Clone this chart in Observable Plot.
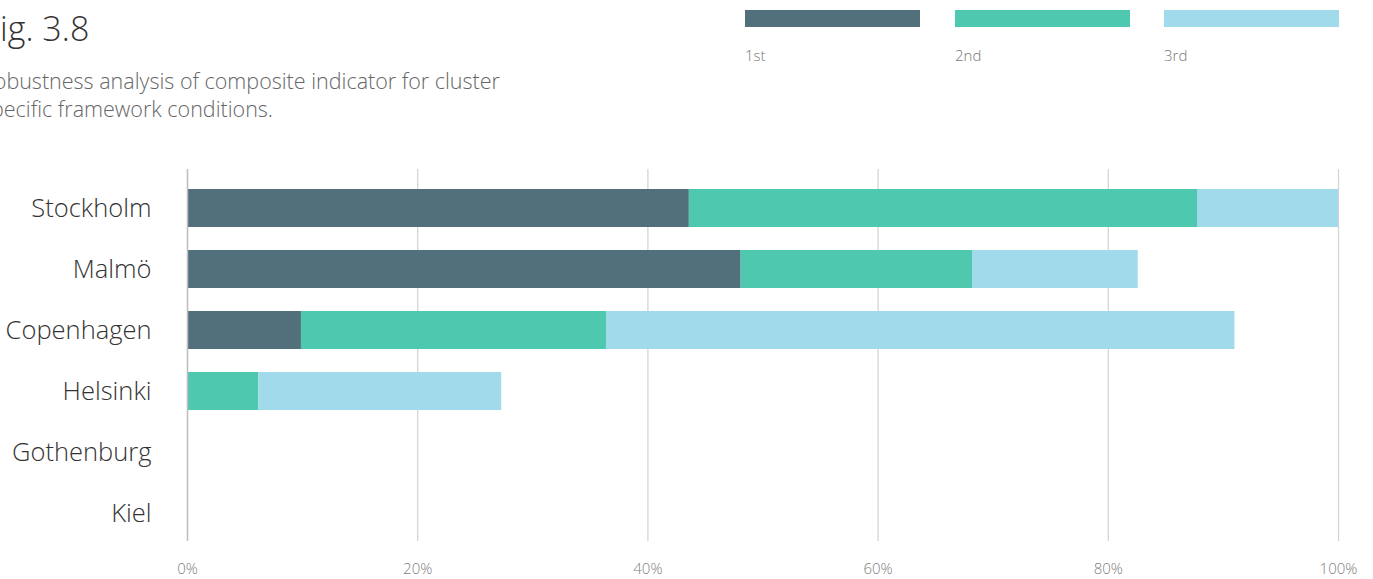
<!DOCTYPE html>
<html>
<head>
<meta charset="utf-8">
<script src="https://cdn.jsdelivr.net/npm/d3@7"></script>
<script src="https://cdn.jsdelivr.net/npm/@observablehq/plot@0.6"></script>
<style>
  html, body { margin: 0; padding: 0; background: #fff; }
  body { width: 1373px; height: 579px; overflow: hidden; position: relative;
         font-family: "Open Sans", Roboto, sans-serif; }
  #title { position: absolute; left: -17px; top: 5px; font-size: 34px; font-weight: 300; color: #333; white-space: nowrap; }
  #subtitle { position: absolute; left: -19px; top: 67px; font-size: 21.5px; line-height: 28px; font-weight: 300; color: #666; white-space: nowrap; }
  #legend { position: absolute; left: 0; top: 0; }
  .sw { position: absolute; height: 17px; width: 175px; top: 10px; }
  .lb { position: absolute; top: 45px; font-size: 15px; color: #777; font-weight: 300; }
  #chart { position: absolute; left: 0; top: 0; }
</style>
</head>
<body>
<div id="chart"></div>
<div id="title">Fig. 3.8</div>
<div id="subtitle">Robustness analysis of composite indicator for cluster<br>specific framework conditions.</div>
<div id="legend"></div>
<script>
const cities = ["Stockholm", "Malmö", "Copenhagen", "Helsinki", "Gothenburg", "Kiel"];
const ranks = ["1st", "2nd", "3rd"];
const first  = [43.6, 48.1, 9.9, 0, 0, 0];
const second = [44.2, 20.1, 26.5, 6.2, 0, 0];
const third  = [12.2, 14.4, 54.6, 21.1, 0, 0];
const colors = ["#526f7c", "#4ec9b0", "#a1dbeb"];
const xTicks = [0, 20, 40, 60, 80, 100];

const series = [first, second, third];
const rows = [];
ranks.forEach((r, ri) => {
  cities.forEach((c, ci) => {
    rows.push({city: c, rank: r, value: series[ri][ci]});
  });
});

const chart = Plot.plot({
  width: 1373,
  height: 579,
  marginLeft: 187,
  marginRight: 35,
  marginTop: 176,
  marginBottom: 34,
  style: {fontFamily: '"Open Sans", Roboto, sans-serif', background: "transparent"},
  x: {domain: [0, 100], ticks: xTicks, tickFormat: d => d + "%", label: null},
  y: {domain: cities, paddingInner: 0.38, paddingOuter: 0.19, label: null},
  color: {domain: ranks, range: colors},
  marks: [
    Plot.ruleX(xTicks.slice(1), {stroke: "#d2d2d2", strokeWidth: 1.2, insetTop: -7, insetBottom: 4}),
    Plot.barX(rows, Plot.stackX({x: "value", y: "city", fill: "rank", order: ranks})),
    Plot.ruleX([0], {stroke: "#bdbdbd", strokeWidth: 1.5, insetTop: -7, insetBottom: 4}),
    Plot.axisX({ticks: xTicks, tickFormat: d => d + "%", tickSize: 0, tickPadding: 18, fontSize: 15, fill: "#808080", fontWeight: 300, label: null}),
    Plot.axisY({tickSize: 0, tickPadding: 36, fontSize: 25.5, fill: "#333", fontWeight: 300, label: null})
  ]
});
document.getElementById("chart").appendChild(chart);

const legend = document.getElementById("legend");
const legendX = [745, 955, 1164];
ranks.forEach((r, i) => {
  const s = document.createElement("div");
  s.className = "sw";
  s.style.left = legendX[i] + "px";
  s.style.background = colors[i];
  legend.appendChild(s);
  const l = document.createElement("div");
  l.className = "lb";
  l.style.left = legendX[i] + "px";
  l.textContent = r;
  legend.appendChild(l);
});
</script>
</body>
</html>
